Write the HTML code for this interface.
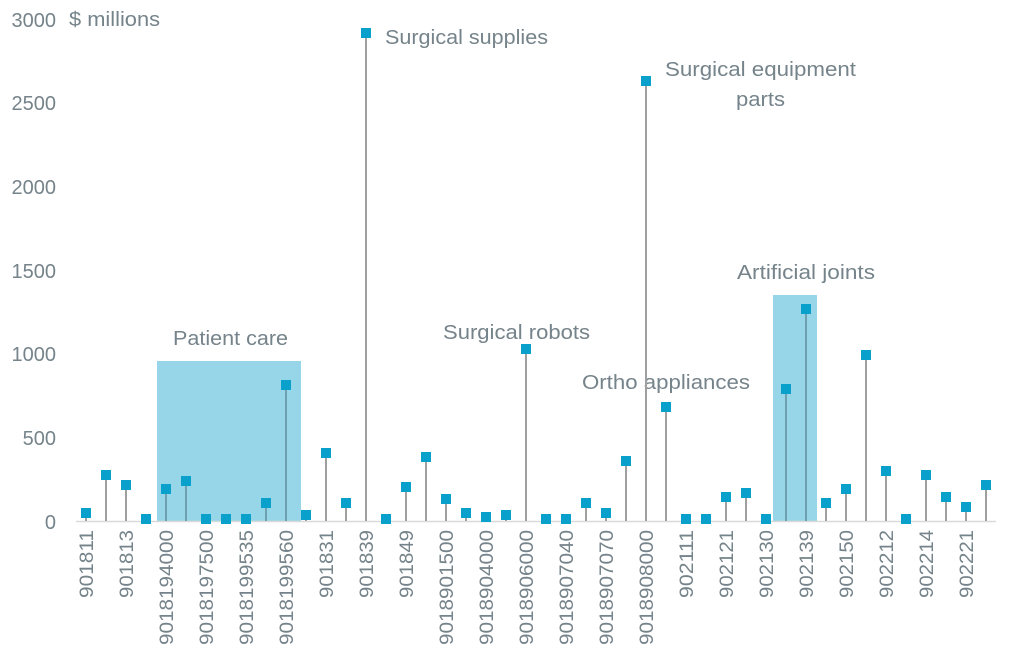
<!DOCTYPE html>
<html><head><meta charset="utf-8"><style>
html,body{margin:0;padding:0;background:#fff}
svg{display:block}
text{font-family:"Liberation Sans",sans-serif;fill:#75838a}
</style></head><body>
<svg width="1010" height="656" viewBox="0 0 1010 656" xmlns="http://www.w3.org/2000/svg">
<rect x="157" y="361" width="144" height="160" fill="#97d6e8"/>
<rect x="773" y="295" width="44" height="226" fill="#97d6e8"/>
<line x1="76" y1="521.5" x2="996" y2="521.5" stroke="#d9d9d9" stroke-width="1.5"/>
<g font-size="20" text-anchor="end">
<text x="56" y="27">3000</text>
<text x="56" y="110">2500</text>
<text x="56" y="194">2000</text>
<text x="56" y="278">1500</text>
<text x="56" y="361">1000</text>
<text x="56" y="445">500</text>
<text x="56" y="529">0</text>
</g>
<g font-size="20" lengthAdjust="spacingAndGlyphs">
<text x="69" y="26" textLength="91" lengthAdjust="spacingAndGlyphs">$ millions</text>
<text x="385" y="44" textLength="163" lengthAdjust="spacingAndGlyphs">Surgical supplies</text>
<text x="665" y="76" textLength="191" lengthAdjust="spacingAndGlyphs">Surgical equipment</text>
<text x="736" y="106" textLength="49" lengthAdjust="spacingAndGlyphs">parts</text>
<text x="737" y="279" textLength="138" lengthAdjust="spacingAndGlyphs">Artificial joints</text>
<text x="173" y="345" textLength="115" lengthAdjust="spacingAndGlyphs">Patient care</text>
<text x="443" y="339" textLength="147" lengthAdjust="spacingAndGlyphs">Surgical robots</text>
<text x="582" y="389" textLength="168" lengthAdjust="spacingAndGlyphs">Ortho appliances</text>
</g>
<g id="pts"></g>
<g id="lbl" font-size="19" text-anchor="end"></g>
</svg>
<script>
var ys=[513,475,485,519,489,481,519,519,519,503,385,515,453,503,33,519,487,457,499,513,517,515,349,519,519,503,513,461,81,407,519,519,497,493,519,389,309,503,489,355,471,519,475,497,507,485];
var g=document.getElementById('pts'),s='';
ys.forEach(function(y,i){var x=86+20*i;
s+='<line x1="'+x+'" y1="'+y+'" x2="'+x+'" y2="521" stroke="'+((i>=4&&i<=10)||(i==35||i==36)?'#6fa0b0':'#a0a0a0')+'" stroke-width="2"/>';
s+='<rect x="'+(x-5)+'" y="'+(y-5)+'" width="10" height="10" fill="#0aa0cc"/>';});
g.innerHTML=s;
var L=["901811","901813","9018194000","9018197500","9018199535","9018199560","901831","901839","901849","9018901500","9018904000","9018906000","9018907040","9018907070","9018908000","902111","902121","902130","902139","902150","902212","902214","902221"];
var t='';L.forEach(function(l,k){var x=86+40*k+7;var w=l.length>6?115:68;t+='<text transform="translate('+x+',530) rotate(-90)" textLength="'+w+'" lengthAdjust="spacingAndGlyphs">'+l+'</text>';});
document.getElementById('lbl').innerHTML=t;
</script>
</body></html>
